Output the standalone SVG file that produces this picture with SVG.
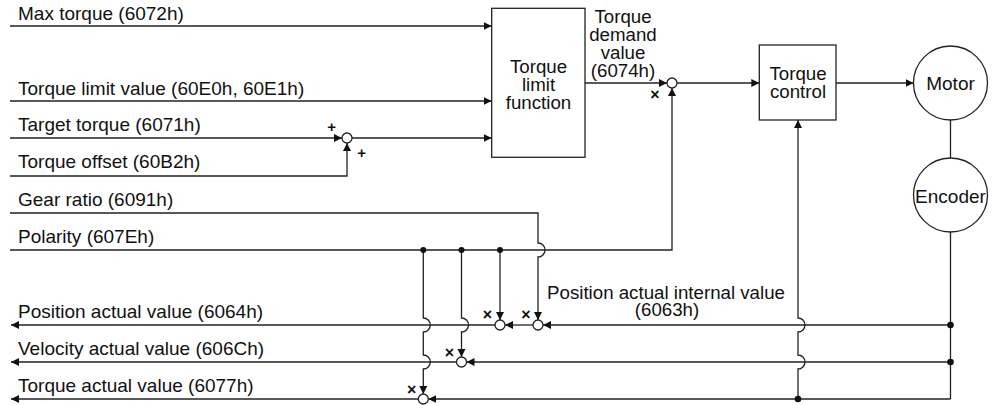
<svg xmlns="http://www.w3.org/2000/svg" width="996" height="405" viewBox="0 0 996 405">
<style>
text{font-family:"Liberation Sans",Arial,sans-serif;font-size:19px;fill:#111}
.c{text-anchor:middle}
.ml{font-size:18.7px}
.sm{font-size:16px;font-weight:bold}
.pl{font-size:15px;font-weight:bold}
.ln{fill:none;stroke:#222;stroke-width:1.3}
.arr{marker-end:url(#ah)}
.box{fill:#fff;stroke:#222;stroke-width:1.3}
.sum{fill:#fff;stroke:#222;stroke-width:1.3}
.dot{fill:#111}
</style>
<defs>
<marker id="ah" markerUnits="userSpaceOnUse" markerWidth="9" markerHeight="9" refX="8" refY="4" orient="auto">
<path d="M0,0 L8,4 L0,8 z" fill="#111"/>
</marker>
</defs>
<rect width="996" height="405" fill="#fff"/>

<g id="labels">
<text x="18" y="20">Max torque (6072h)</text>
<text x="18" y="95">Torque limit value (60E0h, 60E1h)</text>
<text x="18" y="131">Target torque (6071h)</text>
<text x="18" y="168">Torque offset (60B2h)</text>
<text x="18" y="206">Gear ratio (6091h)</text>
<text x="18" y="243">Polarity (607Eh)</text>
<text x="18" y="318">Position actual value (6064h)</text>
<text x="18" y="355">Velocity actual value (606Ch)</text>
<text x="18" y="392">Torque actual value (6077h)</text>
<text class="c ml" x="623" y="23">Torque<tspan x="623" dy="18">demand</tspan><tspan x="623" dy="18">value</tspan><tspan x="623" dy="18">(6074h)</tspan></text>
<text class="c ml" x="666" y="299">Position actual internal value<tspan x="667" dy="17">(6063h)</tspan></text>
</g>

<g id="connectors">
<path class="ln arr" d="M10,26 H491.7"/>
<path class="ln arr" d="M10,101 H491.7"/>
<path class="ln arr" d="M10,138 H342"/>
<path class="ln arr" d="M10,176 H347 V143"/>
<path class="ln arr" d="M352,138 H491.7"/>
<path class="ln arr" d="M585,83 H667"/>
<path class="ln arr" d="M10,250 H672 V88"/>
<path class="ln arr" d="M677,83 H759.3"/>
<path class="ln arr" d="M836,83 H913.5"/>
<path class="ln" d="M950.5,120 V158"/>
<path class="ln" d="M950.5,232 V399"/>
<path class="ln arr" d="M950.5,325 H543"/>
<path class="ln arr" d="M533,325 H505"/>
<path class="ln arr" d="M495,325 H11"/>
<path class="ln arr" d="M950.5,362 H466.5"/>
<path class="ln arr" d="M456.5,362 H11"/>
<path class="ln arr" d="M950.5,399 H428.3"/>
<path class="ln arr" d="M418.3,399 H11"/>
<path class="ln arr" d="M798,399 V369 A7,7 0 0 0 798,355 V332 A7,7 0 0 0 798,318 V120"/>
<path class="ln arr" d="M10,213 H538 V243 A7,7 0 0 1 538,257 V320"/>
<path class="ln arr" d="M500,250 V320"/>
<path class="ln arr" d="M461.5,250 V318 A7,7 0 0 1 461.5,332 V357"/>
<path class="ln arr" d="M423.3,250 V318 A7,7 0 0 1 423.3,332 V355 A7,7 0 0 1 423.3,369 V394"/>
<circle class="dot" cx="423.3" cy="250" r="3"/>
<circle class="dot" cx="461.5" cy="250" r="3"/>
<circle class="dot" cx="500" cy="250" r="3"/>
<circle class="dot" cx="950.5" cy="325" r="3.3"/>
<circle class="dot" cx="950.5" cy="362" r="3.3"/>
<circle class="dot" cx="798" cy="399" r="3.3"/>
</g>

<g id="torque-limit-function">
<rect class="box" x="491.7" y="8.3" width="93.3" height="149"/>
<text class="c ml" x="538.5" y="72.7">Torque<tspan x="538.5" dy="18">limit</tspan><tspan x="538.5" dy="18">function</tspan></text>
</g>

<g id="torque-control">
<rect class="box" x="759.3" y="45" width="76.7" height="75"/>
<text class="c ml" x="798" y="79.5">Torque<tspan x="798" dy="18">control</tspan></text>
</g>

<g id="motor">
<circle class="box" cx="950.5" cy="83" r="37"/>
<text class="c" x="950.5" y="89.5">Motor</text>
</g>

<g id="encoder">
<circle class="box" cx="950.5" cy="195" r="37"/>
<text class="c" x="950.5" y="203">Encoder</text>
</g>

<g id="sum-offset">
<circle class="sum" cx="347" cy="138" r="5"/>
<text class="c pl" x="331.7" y="132">+</text>
<text class="c pl" x="361.7" y="157.6">+</text>
</g>

<g id="mul-polarity-torque">
<circle class="sum" cx="672" cy="83" r="5"/>
<text class="c sm" x="655" y="99.6">×</text>
</g>

<g id="mul-gear">
<circle class="sum" cx="538" cy="325" r="5"/>
<text class="c sm" x="526" y="320.3">×</text>
</g>

<g id="mul-polarity-position">
<circle class="sum" cx="500" cy="325" r="5"/>
<text class="c sm" x="487.3" y="320.3">×</text>
</g>

<g id="mul-polarity-velocity">
<circle class="sum" cx="461.5" cy="362" r="5"/>
<text class="c sm" x="449.3" y="357.6">×</text>
</g>

<g id="mul-polarity-torque-actual">
<circle class="sum" cx="423.3" cy="399" r="5"/>
<text class="c sm" x="411.7" y="395.3">×</text>
</g>
</svg>
